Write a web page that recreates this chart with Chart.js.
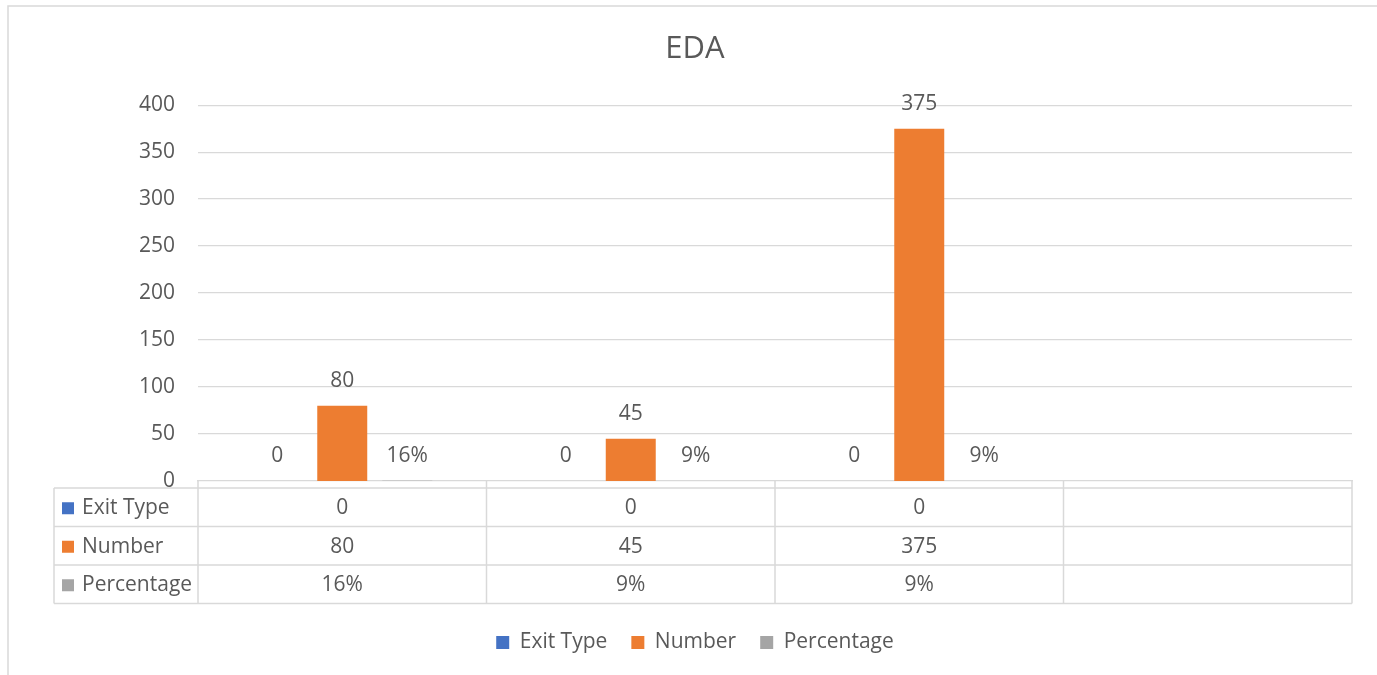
<!DOCTYPE html>
<html>
<head>
<meta charset="utf-8">
<script src="https://cdn.jsdelivr.net/npm/chart.js@4"></script>
<style>
  html, body { margin: 0; padding: 0; background: #fff; }
  #wrap { width: 1377px; height: 675px; }
</style>
</head>
<body>
<div id="wrap"><canvas id="chart1" width="1377" height="675"></canvas></div>
<script>
// categories are blank in the source sheet, 4th column is empty
const categories = ['', '', '', ''];
const exitType = [0, 0, 0, null];
const number = [80, 45, 375, null];
const percentage = [0.16, 0.09, 0.09, null];
const yTicks = [0, 50, 100, 150, 200, 250, 300, 350, 400];

const textColor = '#595959';
const lineColor = '#D9D9D9';
const fontFamily = "'Open Sans', sans-serif";
const fontSize = 21;

function fmt(dsIndex, v) {
    if (v === null || v === undefined) return '';
    if (dsIndex === 2) return Math.round(v * 100) + '%';
    return String(v);
}

// outer chart frame (only top + left are visible in the picture)
const framePlugin = {
    id: 'frame',
    beforeDraw(chart) {
        const c = chart.ctx;
        c.save();
        c.strokeStyle = lineColor;
        c.lineWidth = 1.5;
        c.beginPath();
        c.moveTo(8, chart.height);
        c.lineTo(8, 6);
        c.lineTo(chart.width, 6);
        c.stroke();
        c.restore();
    }
};

// value labels above each bar
const labelPlugin = {
    id: 'barLabels',
    afterDatasetsDraw(chart) {
        const c = chart.ctx;
        c.save();
        c.fillStyle = textColor;
        c.font = fontSize + 'px ' + fontFamily;
        c.textAlign = 'center';
        c.textBaseline = 'middle';
        chart.data.datasets.forEach((ds, di) => {
            const meta = chart.getDatasetMeta(di);
            meta.data.forEach((bar, i) => {
                const v = ds.data[i];
                if (v === null) return;
                c.fillText(fmt(di, v), bar.x, bar.y - 25);
            });
        });
        c.restore();
    }
};

// Excel style data table under the x axis
const tablePlugin = {
    id: 'dataTable',
    afterDraw(chart) {
        const c = chart.ctx;
        const area = chart.chartArea;
        const xs = chart.scales.x;
        const n = categories.length;
        const colW = (area.right - area.left) / n;
        const top = area.bottom + 7;
        const rowH = 38.5;
        const rows = chart.data.datasets.length;
        const bottom = top + rowH * rows;
        const x0 = 54;

        c.save();
        c.strokeStyle = lineColor;
        c.lineWidth = 1.5;
        c.beginPath();
        for (let r = 0; r <= rows; r++) {
            const y = top + rowH * r;
            c.moveTo(x0, y);
            c.lineTo(area.right, y);
        }
        c.moveTo(x0, top);
        c.lineTo(x0, bottom);
        for (let i = 0; i <= n; i++) {
            const x = area.left + colW * i;
            c.moveTo(x, area.bottom);
            c.lineTo(x, bottom);
        }
        c.stroke();

        c.font = fontSize + 'px ' + fontFamily;
        c.textBaseline = 'middle';
        chart.data.datasets.forEach((ds, di) => {
            const yc = top + rowH * (di + 0.5) + 1;
            c.fillStyle = ds.backgroundColor;
            c.fillRect(62, yc - 6, 12, 12);
            c.fillStyle = textColor;
            c.textAlign = 'left';
            c.fillText(ds.label, 82, yc);
            c.textAlign = 'center';
            ds.data.forEach((v, i) => {
                c.fillText(fmt(di, v), xs.getPixelForValue(i), yc);
            });
        });
        c.restore();
    }
};

document.addEventListener('DOMContentLoaded', function() {
    const ctx1 = document.getElementById('chart1').getContext('2d');
    new Chart(ctx1, {
        type: 'bar',
        data: {
            labels: categories,
            datasets: [{
                label: 'Exit Type',
                data: exitType,
                backgroundColor: '#4472C4',
                inflateAmount: 0
            }, {
                label: 'Number',
                data: number,
                backgroundColor: '#ED7D31',
                inflateAmount: 0
            }, {
                label: 'Percentage',
                data: percentage,
                backgroundColor: '#A5A5A5',
                inflateAmount: 0
            }]
        },
        options: {
            responsive: false,
            animation: false,
            categoryPercentage: 0.676,
            barPercentage: 0.769,
            layout: {
                padding: { left: 13, right: 0, top: 0, bottom: 12 }
            },
            plugins: {
                title: {
                    display: true,
                    text: 'EDA',
                    color: textColor,
                    font: { family: fontFamily, size: 31, weight: 'normal' },
                    padding: { top: 31, bottom: 37 }
                },
                legend: {
                    position: 'bottom',
                    labels: {
                        color: textColor,
                        font: { family: fontFamily, size: fontSize },
                        boxWidth: 13,
                        boxHeight: 13,
                        padding: 24
                    }
                },
                tooltip: { enabled: false }
            },
            scales: {
                x: {
                    grid: { display: false },
                    // the zero line comes from the x axis border
                    border: { display: true, color: lineColor, width: 1.3 },
                    ticks: { display: false },
                    afterFit: s => { s.height = 127; }
                },
                y: {
                    min: 0,
                    max: 400,
                    afterBuildTicks: s => { s.ticks = yTicks.map(v => ({ value: v })); },
                    grid: {
                        color: c => (c.tick && c.tick.value === 0) ? 'rgba(0,0,0,0)' : lineColor,
                        lineWidth: c => (c.tick && c.tick.value === 0) ? 0 : 1.3,
                        drawTicks: false
                    },
                    border: { display: false },
                    ticks: {
                        color: textColor,
                        font: { family: fontFamily, size: fontSize },
                        padding: 23
                    },
                    afterFit: s => { s.width = 185; }
                },
                // empty right gutter so the title/legend centre like the original
                gutter: {
                    type: 'linear',
                    position: 'right',
                    grid: { display: false },
                    border: { display: false },
                    ticks: { display: false },
                    afterFit: s => { s.width = 25; }
                }
            }
        },
        plugins: [framePlugin, labelPlugin, tablePlugin]
    });
});
</script>
</body>
</html>
